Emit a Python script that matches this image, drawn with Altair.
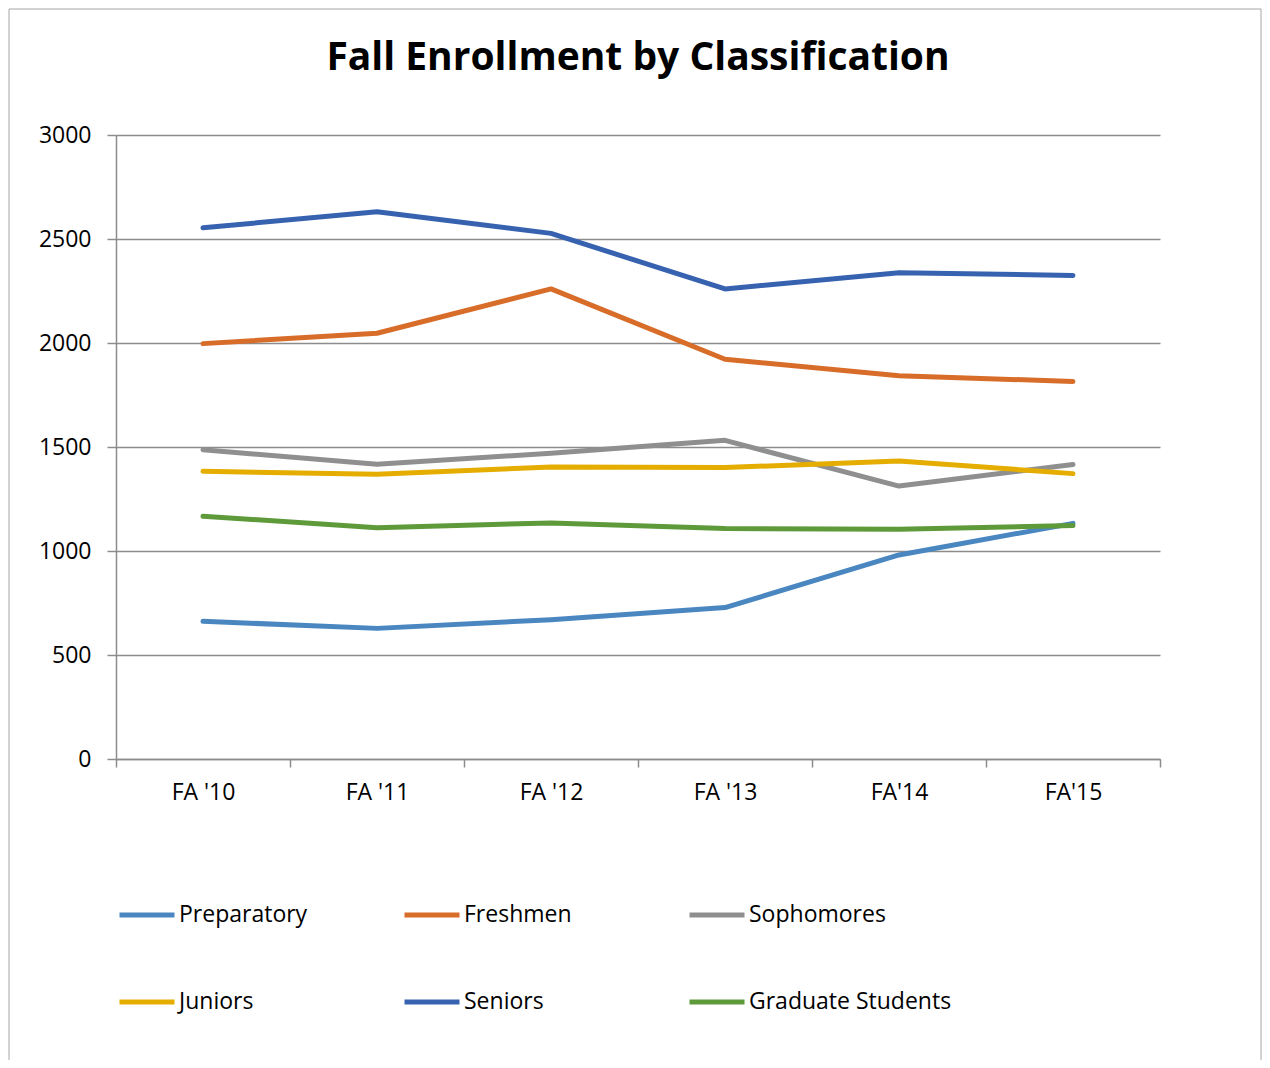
import altair as alt
import pandas as pd

terms = ["FA '10", "FA '11", "FA '12", "FA '13", "FA'14", "FA'15"]
series = ["Preparatory", "Freshmen", "Sophomores", "Juniors", "Seniors", "Graduate Students"]
colors = ["#4a87c0", "#d86c29", "#8f8f8f", "#e4ad00", "#3762b0", "#5e9a3a"]

preparatory = [662, 628, 670, 728, 981, 1133]
freshmen = [1997, 2047, 2260, 1922, 1843, 1815]
sophomores = [1487, 1417, 1470, 1532, 1312, 1416]
juniors = [1383, 1369, 1404, 1401, 1433, 1372]
seniors = [2554, 2631, 2527, 2260, 2338, 2325]
graduate = [1167, 1112, 1135, 1108, 1104, 1122]

values = [preparatory, freshmen, sophomores, juniors, seniors, graduate]
rows = []
for name, vals in zip(series, values):
    for t, v in zip(terms, vals):
        rows.append({"term": t, "series": name, "value": v})
df = pd.DataFrame(rows)

FONT = "Open Sans"
FS = 23

lines = alt.Chart(df).mark_line(strokeWidth=5, strokeCap="round", strokeJoin="round").encode(
    x=alt.X("term:N", sort=terms,
            scale=alt.Scale(type="band", paddingInner=0, paddingOuter=0),
            axis=alt.Axis(title=None, labelAngle=0, tickBand="extent", grid=False,
                          domainColor="#8c8c8c", domainWidth=1.5, tickColor="#8c8c8c",
                          tickWidth=1.5, tickSize=8, labelPadding=14, labelFontSize=FS,
                          labelFont=FONT, labelColor="#000000")),
    y=alt.Y("value:Q", scale=alt.Scale(domain=[0, 3000]),
            axis=alt.Axis(title=None, values=[0, 500, 1000, 1500, 2000, 2500, 3000],
                          format="d",
                          grid=True, gridColor="#8c8c8c", gridWidth=1.5,
                          domainColor="#8c8c8c", domainWidth=1.5, tickColor="#8c8c8c",
                          tickWidth=1.5, tickSize=9, labelPadding=16, labelFontSize=FS,
                          labelFont=FONT, labelColor="#000000")),
    color=alt.Color("series:N", sort=series,
                    scale=alt.Scale(domain=series, range=colors),
                    legend=alt.Legend(title=None, orient="none", legendX=1, legendY=750,
                                      direction="horizontal",
                                      columns=3, gridAlign="all", columnPadding=12,
                                      rowPadding=45, symbolType="stroke", symbolSize=3025,
                                      symbolStrokeWidth=5, labelOffset=2, labelFontSize=FS,
                                      labelLimit=400,
                                      labelFont=FONT, labelColor="#000000", padding=0)),
    order=alt.Order("series:N"),
)

border_df = pd.DataFrame({"k": [0]})
border = alt.Chart(border_df).mark_rect(filled=False, stroke="#a6a6a6", strokeWidth=1).encode(
    x=alt.value(-107), x2=alt.value(1145), y=alt.value(-126), y2=alt.value(1000)
)

chart = alt.layer(border, lines).properties(
    width=1044, height=624,
    title=alt.Title("Fall Enrollment by Classification", font=FONT, fontSize=39,
                    fontWeight="bold", color="#000000", anchor="middle", offset=0,
                    baseline="alphabetic", dy=100),
    padding={"left": 108, "top": 127, "right": 102, "bottom": 301},
    autosize=alt.AutoSizeParams(type="none"),
).configure(background="white", view=alt.ViewConfig(stroke="transparent", strokeWidth=0))

chart.save("out.html", embed_options={"renderer": "svg", "actions": False})
